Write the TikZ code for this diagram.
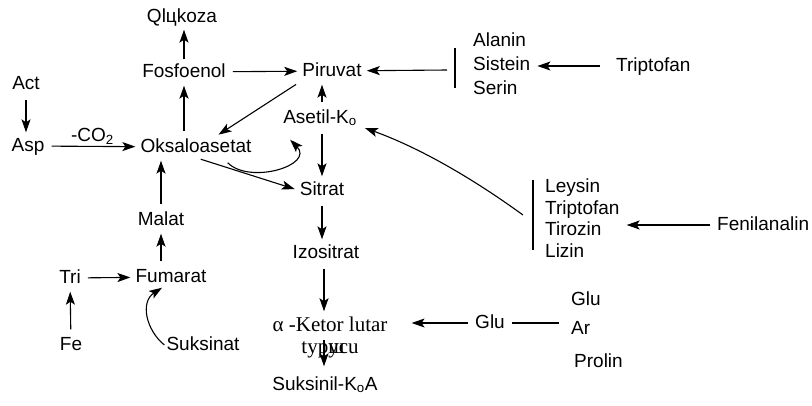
\documentclass[tikz,border=0pt]{standalone}
\usepackage{fontspec}
\setmainfont{Liberation Sans}
\newfontfamily\serfont{Liberation Serif}
\usetikzlibrary{arrows.meta}

\begin{document}
\begin{tikzpicture}[
    x=1pt, y=-1pt,
    lbl/.style={inner sep=2pt, text height=13.5pt, text depth=3.5pt,
                font=\fontsize{19}{22}\selectfont},
    grp/.style={inner sep=1pt, align=left, anchor=west},
    arr/.style={-{Stealth[length=13pt,width=9pt,inset=3pt]}, line width=1.1pt,
                shorten <=5pt, shorten >=3pt},
    bar/.style={line width=1.1pt}
]
\useasboundingbox (0,0) rectangle (812,405);
% Left column: Act, Asp, Tri, Fe
\node[lbl] (act) at (26,84) {Act};
\node[lbl] (asp) at (28,146) {Asp};
\node[lbl] (tri) at (70,278) {Tri};
\node[lbl] (fe) at (71,345) {Fe};
% Cycle and gluconeogenesis
\node[lbl] (glc) at (182,17) {Qlцkoza};
\node[lbl] (fos) at (184,72) {Fosfoenol};
\node[lbl] (oks) at (196,147) {Oksaloasetat};
\node[lbl] (mal) at (161,220) {Malat};
\node[lbl] (fum) at (171,277) {Fumarat};
\node[lbl] (suc) at (203,345) {Suksinat};
\node[lbl] (pir) at (332,71) {Piruvat};
\node[lbl] (ase) at (320,118) {Asetil-K\textsubscript{o}};
\node[lbl] (sit) at (322,190) {Sitrat};
\node[lbl] (izo) at (326,253) {Izositrat};
\node[inner sep=2pt, align=center, font=\serfont\fontsize{21}{22}\selectfont]
  (akg) at (330,337) {α -Ketor lutar\\typ\rlap{ш}ycu};
\node[lbl] (sks) at (325,385) {Suksinil-K\textsubscript{o}A};
% Amino acids
\node[grp, font=\fontsize{19}{24}\selectfont] (aas) at (472,64)
  {Alanin\\Sistein\\Serin};
\node[lbl, anchor=west] (trp) at (614,66) {Triptofan};
\node[grp, font=\fontsize{19}{21.7}\selectfont] (lgr) at (544,218)
  {Leysin\\Triptofan\\Tirozin\\Lizin};
\node[lbl, anchor=west] (fen) at (715,225) {Fenilanalin};
\node[lbl] (glu) at (490,323) {Glu};
\node[lbl, anchor=west] (glu2) at (569,300) {Glu};
\node[lbl, anchor=west] (ar) at (569,329) {Ar};
\node[lbl, anchor=west] (pro) at (572,362) {Prolin};
% Bars and free ends
\coordinate (bar1a) at (455,48);
\coordinate (bar1b) at (455,88);
\coordinate (bar2a) at (533,180);
\coordinate (bar2b) at (533,250);
\coordinate (aasout) at (447,70);
\coordinate (lgrout) at (523,215);
\coordinate (akgout) at ([xshift=-1pt,yshift=34pt]sks.north);
\draw[bar] (bar1a) -- (bar1b);
\draw[bar] (bar2a) -- (bar2b);
% Arrows
\draw[arr] (act.south) -- (act.south |- asp.north);
\draw[arr] (asp) -- node[lbl, above=-1pt] {-CO\textsubscript{2}} (oks);
\draw[arr] (oks.north -| fos) -- (fos);
\draw[arr, shorten <=2pt, shorten >=2pt] (fos.north) -- (fos.north |- glc.south);
\draw[arr] (fos) -- (pir);
\draw[arr] (pir.south west) -- ([xshift=20pt]oks.north);
\draw[arr] ([xshift=2pt]ase.north) -- ([xshift=2pt]ase.north |- pir.south);
\draw[arr] ([xshift=2pt]ase.south) -- ([xshift=2pt]ase.south |- sit.north);
\draw[arr, shorten <=0pt, shorten >=0pt] ([xshift=-26pt,yshift=-5pt]oks.south east)
  .. controls (250,185) and (315,165) .. ([xshift=9pt,yshift=-11pt]ase.south west);
\draw[arr] (oks.south) -- (sit.west);
\draw[arr] (sit.south) -- (sit.south |- izo.north);
\draw[arr] ([xshift=-2pt]izo.south) -- ([xshift=-2pt]izo.south |- akg.north);
\draw[arr, shorten <=0pt, shorten >=8pt] (akgout) -- (akgout |- sks.north);
\draw[arr] (mal.north) -- (mal.north |- oks.south);
\draw[arr] (fum.north -| mal) -- (mal);
\draw[arr] (tri) -- (fum);
\draw[arr] (fe) -- (tri);
\draw[arr, shorten <=0pt, shorten >=0pt] (suc.west) .. controls (146,330) and (140,302) .. ([xshift=-9pt]fum.south);
\draw[arr, shorten <=0pt] (aasout) -- (pir);
\draw[arr, shorten <=14pt, shorten >=6pt] (trp) -- (trp -| aas.east);
\draw[arr, shorten <=0pt, shorten >=0pt] (lgrout) .. controls (472,178) and (420,148) .. ([xshift=6pt,yshift=-10pt]ase.east);
\draw[arr, shorten >=6pt] (fen) -- (fen -| lgr.east);
\draw[arr, shorten >=22pt] (glu) -- (glu -| akg.east);
\draw[bar, shorten <=5pt, shorten >=10pt] (glu) -- (glu -| ar.west);
\end{tikzpicture}
\end{document}
